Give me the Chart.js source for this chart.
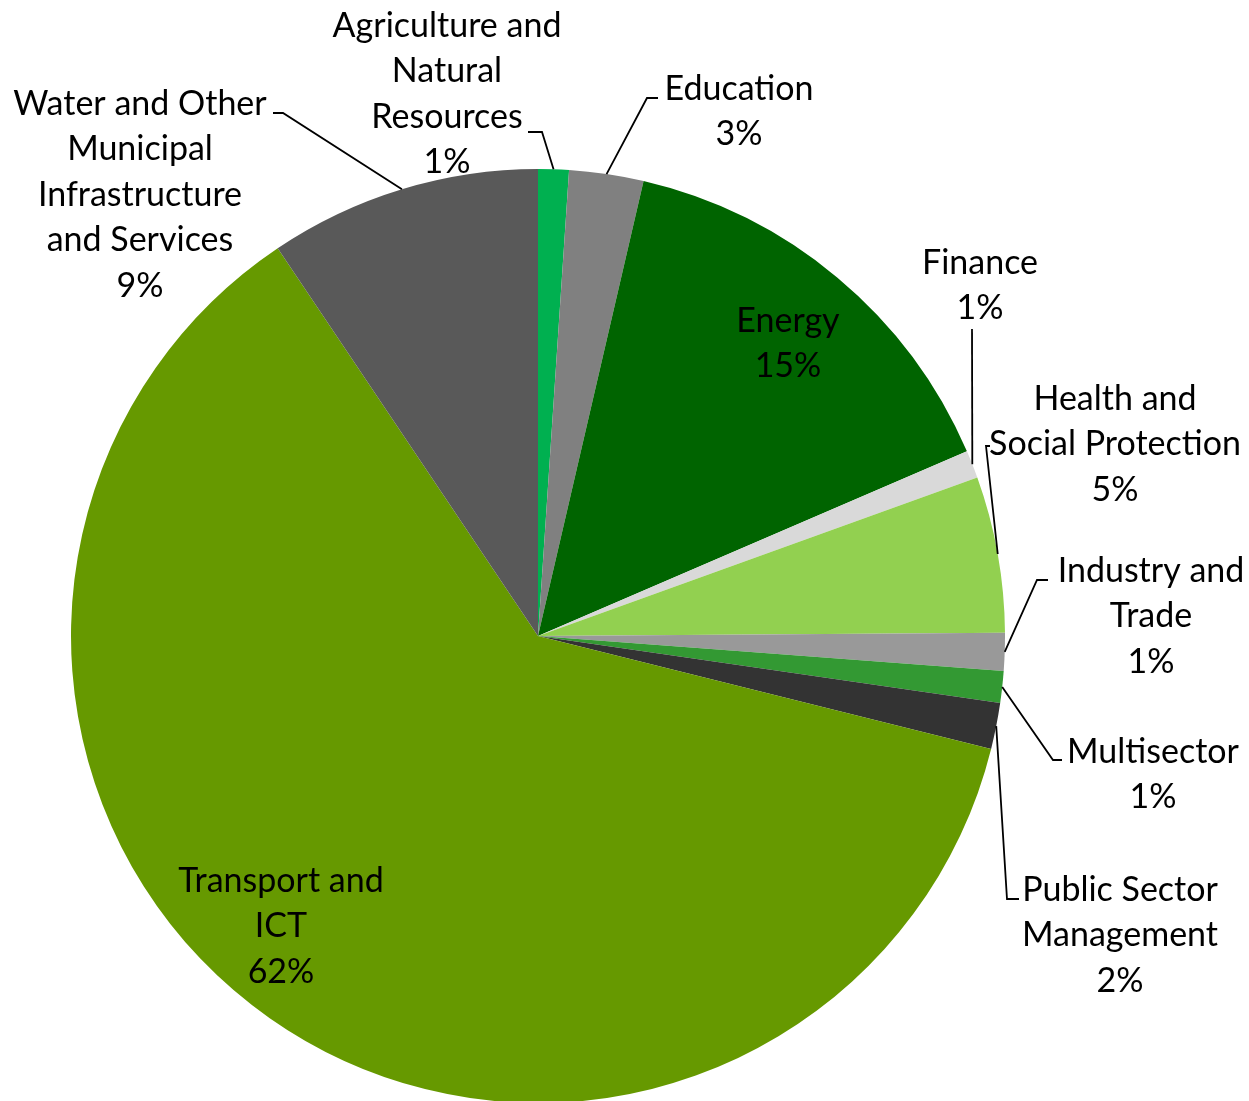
<!DOCTYPE html>
<html>
<head>
<meta charset="utf-8">
<script src="https://cdn.jsdelivr.net/npm/chart.js@4/dist/chart.umd.min.js"></script>
<style>
  html, body { margin: 0; padding: 0; background: #fff; overflow: hidden; }
  canvas { display: block; }
</style>
</head>
<body>
<canvas id="sectorChart" width="1249" height="1110"></canvas>
<script>
/* Sectors, clockwise from 12 o'clock (label lines as they wrap in the picture) */
const sectors = [
  ['Agriculture and', 'Natural', 'Resources'],
  ['Education'],
  ['Energy'],
  ['Finance'],
  ['Health and', 'Social Protection'],
  ['Industry and', 'Trade'],
  ['Multisector'],
  ['Public Sector', 'Management'],
  ['Transport and', 'ICT'],
  ['Water and Other', 'Municipal', 'Infrastructure', 'and Services'],
];

/* Share of the total, % */
const shares = [1.06, 2.57, 14.9, 0.96, 5.4, 1.3, 1.1, 1.6, 61.7, 9.41];

const sliceColors = [
  '#00B050', '#808080', '#006400', '#D9D9D9', '#92D050',
  '#999999', '#339933', '#333333', '#669900', '#595959',
];

/* Label placement, in px from the pie centre:
   tx/ty = centre of the first text line, elbow/tail = leader line bends */
const labelLayout = [
  { tx: -91, ty: -610, elbow: [4, -504],   tail: [-10, -504] },
  { tx: 201, ty: -547, elbow: [109, -538], tail: [120, -538] },
  { tx: 250, ty: -315 },
  { tx: 442, ty: -373, elbow: [434, -307], tail: [434, -307] },
  { tx: 577, ty: -237, elbow: [448, -190], tail: [452, -190] },
  { tx: 613, ty: -65,  elbow: [499, -56],  tail: [510, -56] },
  { tx: 615, ty: 116,  elbow: [515, 124],  tail: [524, 124] },
  { tx: 582, ty: 254,  elbow: [469, 263],  tail: [481, 263] },
  { tx: -257, ty: 245 },
  { tx: -398, ty: -532, elbow: [-255, -523], tail: [-265, -523] },
];

const LINE_H = 45.5;
const FONT = "34px Lato, 'DejaVu Sans', sans-serif";

/* Plugin: labels with leader lines, anchored on each arc */
const sliceLabels = {
  id: 'sliceLabels',
  afterDatasetsDraw(chart) {
    const ctx = chart.ctx;
    const arcs = chart.getDatasetMeta(0).data;
    const values = chart.data.datasets[0].data;
    const total = values.reduce((a, b) => a + b, 0);

    ctx.save();
    arcs.forEach((arc, i) => {
      const lay = labelLayout[i];
      const cx = arc.x, cy = arc.y;

      if (lay.elbow) {
        const mid = (arc.startAngle + arc.endAngle) / 2;
        const sx = cx + Math.cos(mid) * arc.outerRadius;
        const sy = cy + Math.sin(mid) * arc.outerRadius;
        ctx.beginPath();
        ctx.moveTo(sx, sy);
        ctx.lineTo(cx + lay.elbow[0], cy + lay.elbow[1]);
        ctx.lineTo(cx + lay.tail[0], cy + lay.tail[1]);
        ctx.strokeStyle = '#000';
        ctx.lineWidth = 1.8;
        ctx.stroke();
      }

      const lines = chart.data.labels[i].concat(Math.round(values[i] / total * 100) + '%');
      ctx.font = FONT;
      ctx.fillStyle = '#000';
      ctx.textAlign = 'center';
      ctx.textBaseline = 'middle';
      lines.forEach((txt, k) => {
        ctx.fillText(txt, cx + lay.tx, cy + lay.ty + k * LINE_H);
      });
    });
    ctx.restore();
  },
};

new Chart(document.getElementById('sectorChart').getContext('2d'), {
  type: 'pie',
  data: {
    labels: sectors,
    datasets: [{
      data: shares,
      backgroundColor: sliceColors,
      borderWidth: 0,
    }],
  },
  options: {
    responsive: false,
    animation: false,
    layout: { padding: { left: 71, top: 169, right: 244, bottom: 7 } },
    plugins: {
      legend: { display: false },
      tooltip: { enabled: false },
    },
  },
  plugins: [sliceLabels],
});
</script>
</body>
</html>
